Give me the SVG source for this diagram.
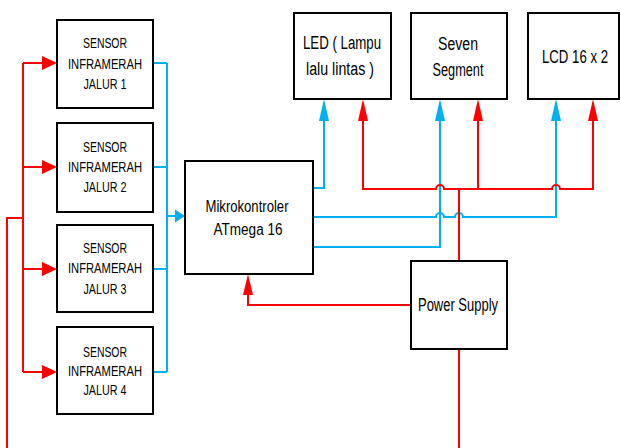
<svg xmlns="http://www.w3.org/2000/svg" width="621" height="448" viewBox="0 0 621 448">
<style>
.box{fill:#fff;stroke:#000;stroke-width:2}
.t{font-family:"Liberation Sans",Arial,sans-serif;fill:#000;text-anchor:middle}
.s{font-size:14px}
.m{font-size:16px}
.b{font-size:18px}
.red{fill:none;stroke:#FF0000;stroke-width:2}
.blue{fill:none;stroke:#00B0F0;stroke-width:2}
.rh{fill:#FF0000}
.bh{fill:#00B0F0}
</style>
<rect width="621" height="448" fill="#fff"/>
<g id="connectors">
  <path class="red" d="M7,448 V218 H23"/>
  <path class="red" d="M23,63 V372"/>
  <path class="red" d="M23,63 H43 M23,167 H43 M23,269 H43 M23,372 H43"/>
  <polygon class="rh" points="57,63 42,56 42,70"/>
  <polygon class="rh" points="57,167 42,160 42,174"/>
  <polygon class="rh" points="57,269 42,262 42,276"/>
  <polygon class="rh" points="57,372 42,365 42,379"/>
  <path class="blue" d="M153,63 H167 M153,167 H167 M153,269 H167 M153,372 H167 M167,63 V372 M167,216 H176"/>
  <polygon class="bh" points="185,216 175,209.5 175,222.5"/>
  <path class="blue" d="M313,188 H324 V120"/>
  <path class="blue" d="M313,217 H436 A4,4 0 0 1 444,217 H455 A4,4 0 0 1 463,217 H556 V120"/>
  <path class="blue" d="M313,247 H440 V120"/>
  <polygon class="bh" points="324,99 319,121 329,121"/>
  <polygon class="bh" points="440,99 435,121 445,121"/>
  <polygon class="bh" points="556,99 551,121 561,121"/>
  <path class="red" d="M363,120 V189 H436 A4,4 0 0 1 444,189 H552 A4,4 0 0 1 560,189 H593 V120"/>
  <path class="red" d="M478,120 V189"/>
  <path class="red" d="M459,189 V261"/>
  <path class="red" d="M459,349 V448"/>
  <polygon class="rh" points="363,99 358,121 368,121"/>
  <polygon class="rh" points="478,99 473,121 483,121"/>
  <polygon class="rh" points="593,99 588,121 598,121"/>
  <path class="red" d="M411,305 H248 V293"/>
  <polygon class="rh" points="248,274 243,295 253,295"/>
</g>
<g id="sensor1">
  <rect class="box" x="57" y="20" width="96" height="88"/>
  <text class="t s" x="105" y="48" textLength="44" lengthAdjust="spacingAndGlyphs">SENSOR</text>
  <text class="t s" x="105" y="69" textLength="74" lengthAdjust="spacingAndGlyphs">INFRAMERAH</text>
  <text class="t s" x="105" y="89" textLength="43" lengthAdjust="spacingAndGlyphs">JALUR 1</text>
</g>
<g id="sensor2">
  <rect class="box" x="57" y="123" width="96" height="89"/>
  <text class="t s" x="105" y="152" textLength="44" lengthAdjust="spacingAndGlyphs">SENSOR</text>
  <text class="t s" x="105" y="172" textLength="74" lengthAdjust="spacingAndGlyphs">INFRAMERAH</text>
  <text class="t s" x="105" y="192" textLength="43" lengthAdjust="spacingAndGlyphs">JALUR 2</text>
</g>
<g id="sensor3">
  <rect class="box" x="57" y="225" width="96" height="87"/>
  <text class="t s" x="105" y="253" textLength="44" lengthAdjust="spacingAndGlyphs">SENSOR</text>
  <text class="t s" x="105" y="273" textLength="74" lengthAdjust="spacingAndGlyphs">INFRAMERAH</text>
  <text class="t s" x="105" y="294" textLength="43" lengthAdjust="spacingAndGlyphs">JALUR 3</text>
</g>
<g id="sensor4">
  <rect class="box" x="57" y="327" width="96" height="87"/>
  <text class="t s" x="105" y="357" textLength="44" lengthAdjust="spacingAndGlyphs">SENSOR</text>
  <text class="t s" x="105" y="376" textLength="74" lengthAdjust="spacingAndGlyphs">INFRAMERAH</text>
  <text class="t s" x="105" y="395" textLength="43" lengthAdjust="spacingAndGlyphs">JALUR 4</text>
</g>
<g id="mikrokontroler">
  <rect class="box" x="185" y="161" width="128" height="113"/>
  <text class="t m" x="247" y="212" textLength="83" lengthAdjust="spacingAndGlyphs">Mikrokontroler</text>
  <text class="t m" x="248" y="235" textLength="69" lengthAdjust="spacingAndGlyphs">ATmega 16</text>
</g>
<g id="led">
  <rect class="box" x="294" y="13" width="97" height="86"/>
  <text class="t b" x="342" y="49" textLength="78" lengthAdjust="spacingAndGlyphs">LED ( Lampu</text>
  <text class="t b" x="340" y="75" textLength="68" lengthAdjust="spacingAndGlyphs">lalu lintas )</text>
</g>
<g id="seven-segment">
  <rect class="box" x="411" y="13" width="96" height="86"/>
  <text class="t b" x="458" y="50" textLength="40" lengthAdjust="spacingAndGlyphs">Seven</text>
  <text class="t b" x="458" y="76" textLength="51" lengthAdjust="spacingAndGlyphs">Segment</text>
</g>
<g id="lcd">
  <rect class="box" x="528" y="13" width="91" height="86"/>
  <text class="t b" x="575" y="63" textLength="66" lengthAdjust="spacingAndGlyphs">LCD 16 x 2</text>
</g>
<g id="power-supply">
  <rect class="box" x="411" y="261" width="96" height="88"/>
  <text class="t b" x="458" y="311" textLength="80" lengthAdjust="spacingAndGlyphs">Power Supply</text>
</g>
</svg>
